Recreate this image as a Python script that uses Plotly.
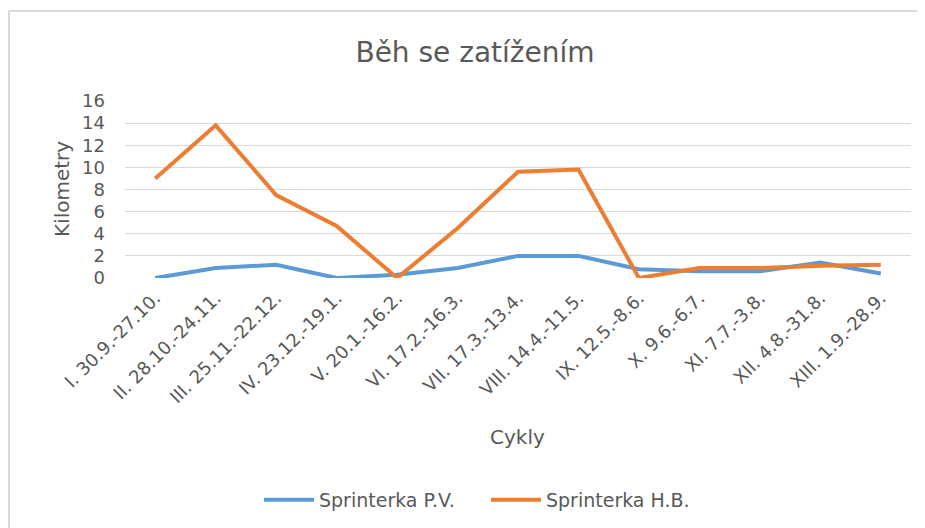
import plotly.graph_objects as go

categories = ["I. 30.9.-27.10.", "II. 28.10.-24.11.", "III. 25.11.-22.12.", "IV. 23.12.-19.1.",
              "V. 20.1.-16.2.", "VI. 17.2.-16.3.", "VII. 17.3.-13.4.", "VIII. 14.4.-11.5.",
              "IX. 12.5.-8.6.", "X. 9.6.-6.7.", "XI. 7.7.-3.8.", "XII. 4.8.-31.8.", "XIII. 1.9.-28.9."]
sprinterka_pv = [0, 0.9, 1.2, 0, 0.3, 0.9, 2.0, 2.0, 0.8, 0.6, 0.6, 1.4, 0.4]
sprinterka_hb = [9.0, 13.8, 7.5, 4.7, 0, 4.5, 9.6, 9.8, 0, 0.9, 0.9, 1.1, 1.2]

FONT = "DejaVu Sans"
GREY = "#595959"

fig = go.Figure()
fig.add_trace(go.Scatter(x=categories, y=sprinterka_pv, mode="lines", name="Sprinterka P.V.",
                         line=dict(color="#5b9bd5", width=4)))
fig.add_trace(go.Scatter(x=categories, y=sprinterka_hb, mode="lines", name="Sprinterka H.B.",
                         line=dict(color="#ed7d31", width=4)))

# page has an 8px body margin: figure coordinates = page coordinates - 8
OFF = 8
W, H = 925 - OFF, 528 - OFF
L, T = 125 - OFF, 101 - OFF
R = W - (911 - OFF)
B = H - (278 - OFF)
pw, ph = W - L - R, H - T - B


def px_x(page_x):
    return (page_x - OFF - L) / pw


def px_y(page_y):
    return (H - B - (page_y - OFF)) / ph


fig.update_layout(
    width=W, height=H,
    margin=dict(l=L, r=R, t=T, b=B, autoexpand=False),
    paper_bgcolor="white", plot_bgcolor="white",
    font=dict(family=FONT, color=GREY, size=18),
    title=dict(text="Běh se zatížením", x=(475 - OFF) / W, xanchor="center", xref="container",
               y=1 - (52 - OFF) / H, yanchor="middle", yref="container",
               font=dict(size=28, color=GREY, family=FONT)),
    showlegend=True,
    legend=dict(orientation="h", x=px_x(259), xanchor="left", y=px_y(500), yanchor="middle",
                font=dict(size=19, color=GREY), itemwidth=50,
                entrywidth=162, entrywidthmode="pixels"),
    xaxis=dict(type="category", tickangle=-45, showgrid=False, zeroline=False, showline=False,
               ticks="", tickfont=dict(size=18, color=GREY), automargin=False,
               ticklabelstandoff=5, range=[-0.5, len(categories) - 0.5]),
    yaxis=dict(range=[0, 16], dtick=2, showgrid=True, gridcolor="#d9d9d9", gridwidth=1,
               zeroline=False, showline=False, ticks="", tickfont=dict(size=18, color=GREY),
               ticklabelstandoff=19, automargin=False),
    annotations=[
        dict(text="Cykly", xref="paper", yref="paper", x=px_x(517), y=px_y(437),
             xanchor="center", yanchor="middle", showarrow=False, font=dict(size=20, color=GREY)),
        dict(text="Kilometry", xref="paper", yref="paper", x=px_x(62), y=px_y(189),
             xanchor="center", yanchor="middle", textangle=-90, showarrow=False,
             font=dict(size=20, color=GREY)),
    ],
)

# chart border (light grey frame: top and left edges visible, rest clipped in reference)
fig.add_shape(type="line", xref="paper", yref="paper",
              x0=px_x(9), x1=px_x(940), y0=px_y(11), y1=px_y(11),
              line=dict(color="#d9d9d9", width=2), layer="below")
fig.add_shape(type="line", xref="paper", yref="paper",
              x0=px_x(9), x1=px_x(9), y0=px_y(11), y1=px_y(545),
              line=dict(color="#d9d9d9", width=2), layer="below")

fig.write_html("out.html")
